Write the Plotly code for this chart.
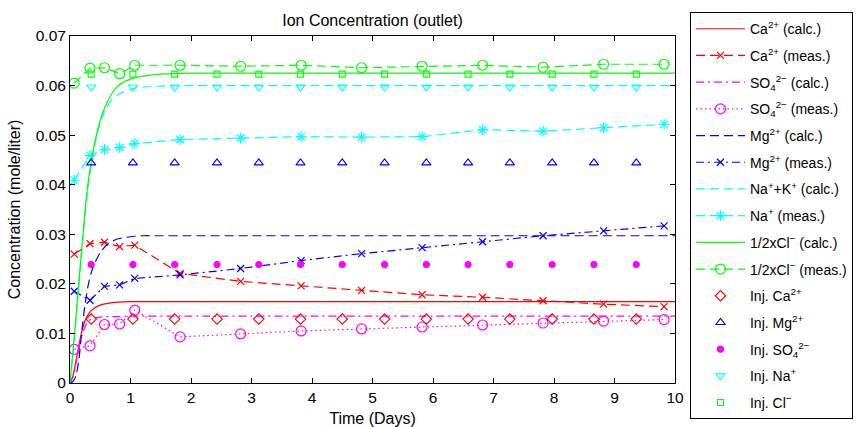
import plotly.graph_objects as go

# ---- data ----
t_calc = [0, 0.05, 0.1, 0.15, 0.2, 0.25, 0.3, 0.35, 0.4, 0.5, 0.6, 0.7, 0.8, 1.0, 1.2, 1.5, 2, 3, 4, 5, 6, 7, 8, 9, 10]
ca_calc = [0, 0.0015, 0.0045, 0.0078, 0.0106, 0.0126, 0.0138, 0.0146, 0.0151, 0.0157, 0.0160, 0.0162, 0.0163, 0.0164, 0.0164, 0.0164, 0.0164, 0.0164, 0.0164, 0.0164, 0.0164, 0.0164, 0.0164, 0.0164, 0.0164]
so4_calc = [0, 0.0012, 0.0040, 0.0070, 0.0097, 0.0114, 0.0124, 0.0129, 0.0131, 0.0133, 0.0134, 0.0134, 0.0134, 0.0135, 0.0135, 0.0135, 0.0135, 0.0135, 0.0135, 0.0135, 0.0135, 0.0135, 0.0135, 0.0135, 0.0135]
mg_calc = [0, 0.0003, 0.0015, 0.0050, 0.0110, 0.0160, 0.0197, 0.0222, 0.0240, 0.0263, 0.0278, 0.0286, 0.0291, 0.0295, 0.0297, 0.0297, 0.0297, 0.0297, 0.0297, 0.0297, 0.0297, 0.0297, 0.0297, 0.0297, 0.0297]
na_calc = [0, 0.0060, 0.0130, 0.0200, 0.0270, 0.0340, 0.0395, 0.0440, 0.0475, 0.0525, 0.0555, 0.0572, 0.0582, 0.0593, 0.0597, 0.0599, 0.0600, 0.0600, 0.0600, 0.0600, 0.0600, 0.0600, 0.0600, 0.0600, 0.0600]
cl_calc = [0, 0.0065, 0.0135, 0.0210, 0.0280, 0.0350, 0.0405, 0.0445, 0.0480, 0.0530, 0.0563, 0.0585, 0.0600, 0.0613, 0.0619, 0.0623, 0.0625, 0.0625, 0.0625, 0.0625, 0.0625, 0.0625, 0.0625, 0.0625, 0.0625]

t_meas = [0.07, 0.33, 0.57, 0.82, 1.07, 1.82, 2.82, 3.82, 4.82, 5.82, 6.82, 7.82, 8.82, 9.82]
ca_meas = [0.0260, 0.0281, 0.0284, 0.0275, 0.0278, 0.0221, 0.0205, 0.0196, 0.0187, 0.0178, 0.0173, 0.0166, 0.0159, 0.0154]
so4_meas = [0.0068, 0.0075, 0.0118, 0.0119, 0.0147, 0.0093, 0.0099, 0.0105, 0.0109, 0.0113, 0.0117, 0.0121, 0.0125, 0.0128]
mg_meas = [0.0185, 0.0167, 0.0195, 0.0198, 0.0211, 0.0218, 0.0231, 0.0247, 0.0261, 0.0273, 0.0285, 0.0297, 0.0307, 0.0317]
na_meas = [0.0409, 0.0459, 0.0471, 0.0475, 0.0483, 0.0491, 0.0494, 0.0497, 0.0496, 0.0497, 0.0511, 0.0508, 0.0515, 0.0522]
cl_meas = [0.0605, 0.0635, 0.0636, 0.0624, 0.0641, 0.0641, 0.0639, 0.0641, 0.0636, 0.0639, 0.0641, 0.0637, 0.0643, 0.0643]

t_inj = [0.35, 1.04, 1.73, 2.43, 3.12, 3.81, 4.50, 5.20, 5.89, 6.58, 7.27, 7.97, 8.66, 9.36]
inj_ca = [0.0129] * len(t_inj)
inj_mg = [0.0444] * len(t_inj)
inj_so4 = [0.0239] * len(t_inj)
inj_na = [0.0597] * len(t_inj)
inj_cl = [0.0623] * len(t_inj)

RED, MAG, BLUE, CYAN, GREEN = "rgb(255,0,0)", "rgb(255,0,255)", "rgb(0,0,255)", "rgb(0,255,255)", "rgb(0,255,0)"
DASH = "9px,5px"
DASHDOT = "8px,4px,2px,4px"
DOT = "1.5px,3px"
LW = 1.2

fig = go.Figure()
_n = [0]

def _grp():
    _n[0] += 1
    return "g%d" % _n[0]

def line(x, y, name, color, dash, shape="spline"):
    fig.add_trace(go.Scatter(x=x, y=y, name=name, mode="lines", legendgroup=_grp(),
                             line=dict(color=color, width=LW, dash=dash, shape=shape, smoothing=0.6)))

def meas(x, y, name, color, dash, symbol, size):
    fig.add_trace(go.Scatter(x=x, y=y, name=name, mode="lines+markers", legendgroup=_grp(),
                             line=dict(color=color, width=LW, dash=dash),
                             marker=dict(symbol=symbol, size=size, color=color,
                                         line=dict(color=color, width=1.2))))

def inj(x, y, name, color, symbol, size):
    fig.add_trace(go.Scatter(x=x, y=y, name=name, mode="markers", legendgroup=_grp(),
                             marker=dict(symbol=symbol, size=size, color=color,
                                         line=dict(color=color, width=1.1))))

line(t_calc, ca_calc, "Ca<sup>2+</sup> (calc.)", RED, "solid")
meas(t_meas, ca_meas, "Ca<sup>2+</sup> (meas.)", RED, DASH, "x-thin-open", 7)
line(t_calc, so4_calc, "SO<sub>4</sub><sup>2−</sup> (calc.)", MAG, DASHDOT)
meas(t_meas, so4_meas, "SO<sub>4</sub><sup>2−</sup> (meas.)", MAG, DOT, "circle-open", 10)
line(t_calc, mg_calc, "Mg<sup>2+</sup> (calc.)", BLUE, DASH)
meas(t_meas, mg_meas, "Mg<sup>2+</sup> (meas.)", BLUE, DASHDOT, "x-thin-open", 7)
line(t_calc, na_calc, "Na<sup>+</sup>+K<sup>+</sup> (calc.)", CYAN, DASH)
meas(t_meas, na_meas, "Na<sup>+</sup> (meas.)", CYAN, DASH, "asterisk-open", 9)
line(t_calc, cl_calc, "1/2xCl<sup>−</sup> (calc.)", GREEN, "solid")
meas(t_meas, cl_meas, "1/2xCl<sup>−</sup> (meas.)", GREEN, DASH, "circle-open", 10)
inj(t_inj, inj_ca, "Inj. Ca<sup>2+</sup>", RED, "diamond-open", 8)
inj(t_inj, inj_mg, "Inj. Mg<sup>2+</sup>", BLUE, "triangle-up-open", 8)
inj(t_inj, inj_so4, "Inj. SO<sub>4</sub><sup>2−</sup>", MAG, "circle", 6)
inj(t_inj, inj_na, "Inj. Na<sup>+</sup>", CYAN, "triangle-down-open", 8)
inj(t_inj, inj_cl, "Inj. Cl<sup>−</sup>", GREEN, "square-open", 6)

FONT = "Liberation Sans, Arial, Helvetica, sans-serif"
axis_common = dict(showline=True, linecolor="black", linewidth=1, mirror="ticks",
                   ticks="inside", ticklen=5, tickcolor="black", showgrid=False,
                   zeroline=False, automargin=False,
                   tickfont=dict(size=15.5, color="black", family=FONT))

fig.update_layout(
    template="none",
    width=865, height=427,
    margin=dict(l=70, r=189, t=34, b=44),
    paper_bgcolor="white", plot_bgcolor="white",
    font=dict(family=FONT, size=14, color="black"),
    title=dict(text="Ion Concentration (outlet)", x=0.5, xref="paper", xanchor="center",
               y=1 - 20 / 427, yanchor="middle", font=dict(size=16, color="black", family=FONT)),
    xaxis=dict(range=[0, 10], dtick=1,
               title=dict(text="Time (Days)", standoff=10, font=dict(size=16, color="black", family=FONT)),
               **axis_common),
    yaxis=dict(range=[0, 0.07], dtick=0.01,
               title=dict(text="Concentration (mole/liter)", standoff=11, font=dict(size=16, color="black", family=FONT)),
               **axis_common),
    legend=dict(x=(691 - 70) / 606, xanchor="left", y=(383 - 10) / 349, yanchor="top",
                bordercolor="black", borderwidth=1, bgcolor="white", itemwidth=49,
                maxheight=420,
                font=dict(size=14, color="black", family=FONT), tracegroupgap=5.5),
    showlegend=True,
)

fig.write_html("out.html")
